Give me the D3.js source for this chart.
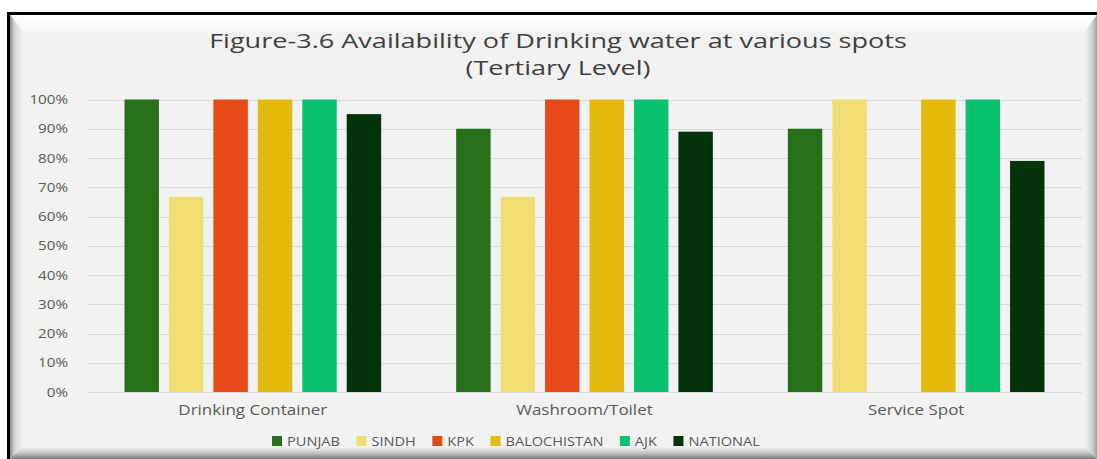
<!DOCTYPE html>
<html>
<head>
<meta charset="utf-8">
<script src="https://cdn.jsdelivr.net/npm/d3@7"></script>
<style>
  body { margin: 0; background: #fff; }
  svg { display: block; }
  text { font-family: "Open Sans", sans-serif; }
</style>
</head>
<body>
<script>
// data
const categories = ['Drinking Container', 'Washroom/Toilet', 'Service Spot'];
const series = ['PUNJAB', 'SINDH', 'KPK', 'BALOCHISTAN', 'AJK', 'NATIONAL'];
const punjab = [100, 90, 90];
const sindh = [66.7, 66.7, 100];
const kpk = [100, 100, 0];
const balochistan = [100, 100, 100];
const ajk = [100, 100, 100];
const national = [95, 89, 79];
const yTicks = [0, 10, 20, 30, 40, 50, 60, 70, 80, 90, 100];
const colors = ['#286f1a', '#f2dd72', '#e64a19', '#e3b90b', '#08c270', '#03330a'];

const values = [punjab, sindh, kpk, balochistan, ajk, national];

const width = 1097, height = 459;
const margin = { top: 99.5, bottom: 67, left: 87, right: 15 };
const sx = 1.17; // the source picture is a bit stretched sideways

const svg = d3.select('body').append('svg')
  .attr('width', width)
  .attr('height', height);

// frame + bevelled panel
const defs = svg.append('defs');
function grad(id, x2, y2, stops) {
  const g = defs.append('linearGradient').attr('id', id)
    .attr('x1', 0).attr('y1', 0).attr('x2', x2).attr('y2', y2);
  stops.forEach(s => g.append('stop').attr('offset', s[0]).attr('stop-color', s[1]));
}
grad('gl', 1, 0, [[0, '#8a8a8a'], [0.35, '#d8d8d8'], [1, '#f2f2f2']]);
grad('gr', 1, 0, [[0, '#f2f2f2'], [0.6, '#d0d0d0'], [1, '#a0a0a0']]);
grad('gt', 0, 1, [[0, '#ffffff'], [1, '#f7f7f7']]);
grad('gb', 0, 1, [[0, '#f2f2f2'], [0.5, '#c4c4c4'], [1, '#7a7a7a']]);

svg.append('rect').attr('x', 10).attr('y', 15).attr('width', width - 10).attr('height', height - 15).attr('fill', '#f2f2f2');
svg.append('polygon').attr('points', '10,15 1097,15 1085,31 23,31').attr('fill', 'url(#gt)');
svg.append('polygon').attr('points', '10,15 23,31 23,447 10,459').attr('fill', 'url(#gl)');
svg.append('polygon').attr('points', '1097,15 1085,31 1085,447 1097,459').attr('fill', 'url(#gr)');
svg.append('polygon').attr('points', '10,459 23,447 1085,447 1097,459').attr('fill', 'url(#gb)');
svg.append('rect').attr('x', 7).attr('y', 12).attr('width', width - 7).attr('height', 3).attr('fill', '#000');
svg.append('rect').attr('x', 7).attr('y', 12).attr('width', 3).attr('height', height - 12).attr('fill', '#000');

// scales
const x0 = d3.scaleBand()
  .domain(categories)
  .range([margin.left, width - margin.right])
  .padding(0);

const groupPad = 37.5;
const x1 = d3.scaleBand()
  .domain(series)
  .range([groupPad, x0.bandwidth() - groupPad])
  .paddingInner(0.225);

const y = d3.scaleLinear()
  .domain([0, 100])
  .range([height - margin.bottom, margin.top]);

// gridlines
svg.append('g').selectAll('line').data(yTicks).enter().append('line')
  .attr('x1', margin.left).attr('x2', width - margin.right)
  .attr('y1', d => Math.round(y(d)) + 0.5).attr('y2', d => Math.round(y(d)) + 0.5)
  .attr('stroke', '#d9d9d9').attr('stroke-width', 1);

// y axis labels
const yAxis = d3.axisLeft(y).tickValues(yTicks).tickFormat(d => d + '%').tickSize(0).tickPadding(0);
const ya = svg.append('g').attr('transform', 'translate(68,0)').call(yAxis);
ya.select('.domain').remove();
ya.selectAll('text')
  .attr('font-family', '"Open Sans", sans-serif')
  .attr('font-size', 13).attr('fill', '#595959')
  .attr('transform', 'scale(' + sx + ',1)')
  .attr('x', 0);

// bars
const rows = categories.map((c, i) => ({ cat: c, vals: series.map((s, k) => ({ s: s, v: values[k][i], c: colors[k] })) }));
const grp = svg.append('g').selectAll('g').data(rows).enter().append('g')
  .attr('transform', d => 'translate(' + x0(d.cat) + ',0)');
grp.selectAll('rect').data(d => d.vals.filter(v => v.v > 0)).enter().append('rect')
  .attr('x', d => x1(d.s))
  .attr('width', x1.bandwidth())
  .attr('y', d => y(d.v))
  .attr('height', d => y(0) - y(d.v))
  .attr('fill', d => d.c);

// category labels
const xAxis = d3.axisBottom(x0).tickSize(0).tickPadding(0);
const xa = svg.append('g').attr('transform', 'translate(0,' + y(0) + ')').call(xAxis);
xa.select('.domain').remove();
xa.selectAll('text')
  .attr('font-family', '"Open Sans", sans-serif')
  .attr('font-size', 14.5).attr('fill', '#595959')
  .attr('dy', 0).attr('y', 23)
  .attr('transform', 'scale(' + sx + ',1)');

// title, stretched to the width it has in the source
const title = svg.append('g').attr('transform', 'translate(558,0)');
const t1 = title.append('text').attr('y', 48).attr('text-anchor', 'middle')
  .attr('font-size', 20.5).attr('fill', '#404040')
  .text('Figure-3.6 Availability of Drinking water at various spots');
const tsx = 698 / t1.node().getComputedTextLength();
t1.attr('transform', 'scale(' + tsx + ',1)');
title.append('text').attr('y', 75).attr('text-anchor', 'middle')
  .attr('font-size', 20.5).attr('fill', '#404040')
  .attr('transform', 'scale(' + tsx + ',1)')
  .text('(Tertiary Level)');

// legend
const lsx = 1.14;
const legend = svg.append('g').attr('transform', 'translate(272,441)');
let lx = 0;
series.forEach((s, k) => {
  const it = legend.append('g').attr('transform', 'translate(' + lx + ',0)');
  it.append('rect').attr('x', 0).attr('y', -5).attr('width', 10).attr('height', 10).attr('fill', colors[k]);
  const t = it.append('text').attr('transform', 'translate(15,0) scale(' + lsx + ',1)')
    .attr('dy', '0.36em').attr('font-size', 12.8).attr('fill', '#595959').text(s);
  const w = t.node().getComputedTextLength() * lsx;
  lx += 15 + w + 16.5;
});
</script>
</body>
</html>
